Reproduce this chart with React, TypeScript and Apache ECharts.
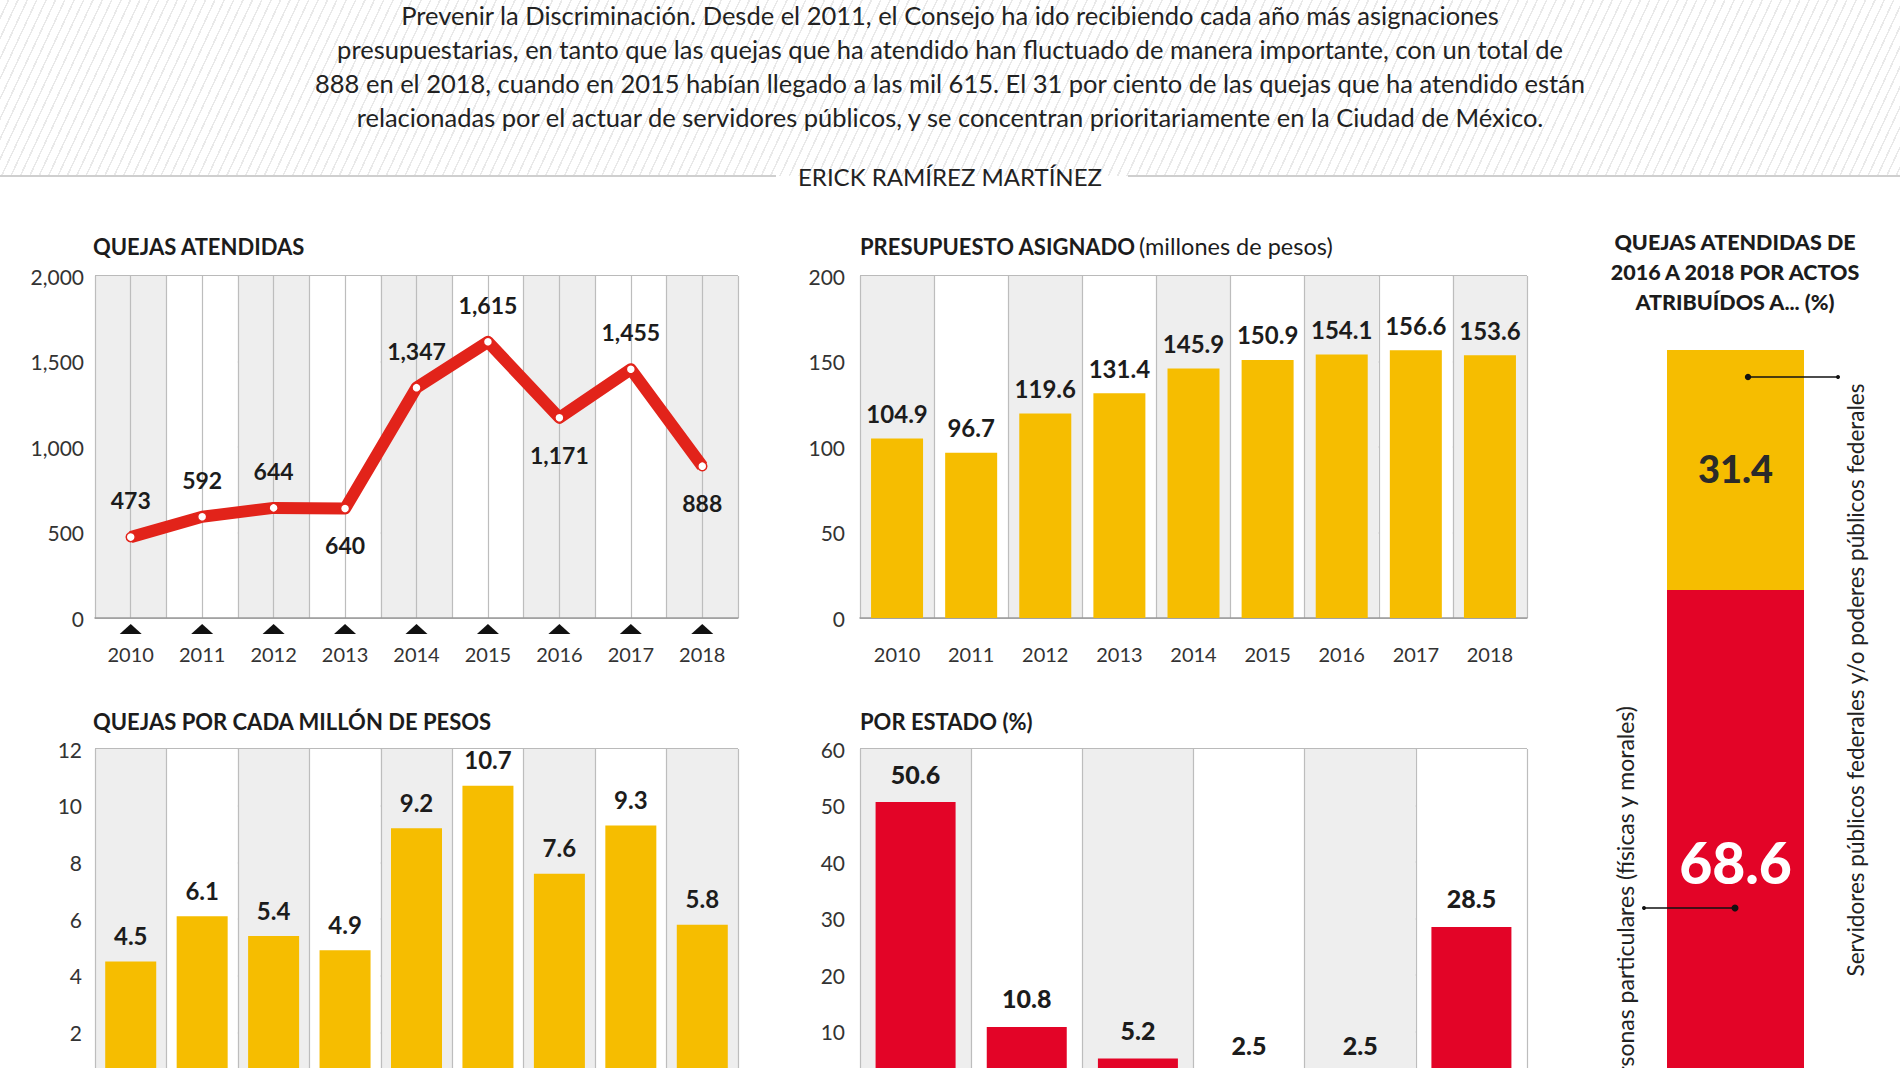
import React, { useEffect, useRef } from "react";
import * as echarts from "echarts";

const F = "Lato, 'Noto Sans', 'DejaVu Sans', sans-serif";

const years = ["2010", "2011", "2012", "2013", "2014", "2015", "2016", "2017", "2018"];
const quejas = [473, 592, 644, 640, 1347, 1615, 1171, 1455, 888];
const quejasLabelPos = ["top", "top", "top", "bottom", "top", "top", "bottom", "top", "bottom"];
const presupuesto = [104.9, 96.7, 119.6, 131.4, 145.9, 150.9, 154.1, 156.6, 153.6];
const quejasPorMillon = [4.5, 6.1, 5.4, 4.9, 9.2, 10.7, 7.6, 9.3, 5.8];
const estados = ["Estado 1", "Estado 2", "Estado 3", "Estado 4", "Estado 5", "Estado 6"];
const porEstado = [50.6, 10.8, 5.2, 2.5, 2.5, 28.5];
const actores = [
  "Personas particulares (físicas y morales)",
  "Servidores públicos federales y/o poderes públicos federales",
];
const actoresPct = [68.6, 31.4];

const paragraph = [
  "Prevenir la Discriminación. Desde el 2011, el Consejo ha ido recibiendo cada año más asignaciones",
  "presupuestarias, en tanto que las quejas que ha atendido han fluctuado de manera importante, con un total de",
  "888 en el 2018, cuando en 2015 habían llegado a las mil 615. El 31 por ciento de las quejas que ha atendido están",
  "relacionadas por el actuar de servidores públicos, y se concentran prioritariamente en la Ciudad de México.",
];

const YELLOW = "#f6bd00";
const RED = "#e30427";
const LINE_RED = "#e2231a";
const GREY_AREA = "#eeeeee";
const VLINE = "#bdbdbd";
const HLINE = "#a3a3a3";
const TXT = "#1c1c1c";

function catAxis(gridIndex: number, data: string[], showLabel: boolean, splitLine = true) {
  return {
    type: "category",
    gridIndex,
    data,
    boundaryGap: true,
    axisTick: { show: false },
    axisLine: { show: true, lineStyle: { color: "#9a9a9a", width: 1.5 } },
    axisLabel: { show: showLabel, margin: 26, fontSize: 20, color: "#333", fontFamily: F },
    splitLine: { show: splitLine, interval: 0, lineStyle: { color: VLINE, width: 1.2 } },
    splitArea: { show: true, interval: 0, areaStyle: { color: [GREY_AREA, "#ffffff"] } },
  };
}

function valAxis(
  gridIndex: number,
  max: number,
  interval: number,
  margin: number,
  fmt?: (v: number) => string
) {
  return {
    type: "value",
    gridIndex,
    min: 0,
    max,
    interval,
    axisLine: { show: false },
    axisTick: { show: false },
    axisLabel: {
      margin,
      fontSize: 21,
      color: "#333",
      fontFamily: F,
      formatter: fmt,
    },
    splitLine: { show: true, lineStyle: { color: HLINE, width: 1.5 } },
  };
}

const hideZero = (v: number) => (v === 0 ? "" : String(v));

export default function App() {
  const ref = useRef<HTMLDivElement>(null);

  useEffect(() => {
    if (!ref.current) return;
    const chart = echarts.init(ref.current, null, { renderer: "svg" });

    const option: any = {
      animation: false,
      textStyle: { fontFamily: F },
      grid: [
        { left: 95, top: 276, width: 643, height: 342 },
        { left: 860, top: 276, width: 667, height: 342 },
        { left: 95, top: 749, width: 643, height: 340 },
        { left: 860, top: 749, width: 667, height: 339 },
        { left: 1667, top: 350, width: 137, height: 764 },
      ],
      xAxis: [
        catAxis(0, years, true, false),
        {
          type: "value",
          gridIndex: 0,
          min: -0.5,
          max: 8.5,
          interval: 0.5,
          position: "bottom",
          axisLine: { show: false },
          axisTick: { show: false },
          axisLabel: { show: false },
          splitLine: { show: true, lineStyle: { color: VLINE, width: 1.2 } },
        },
        catAxis(1, years, true),
        catAxis(2, years, false),
        catAxis(3, estados, false),
        {
          type: "category",
          gridIndex: 4,
          data: ["2016-2018"],
          show: false,
        },
      ],
      yAxis: [
        valAxis(0, 2000, 500, 11, (v: number) => v.toLocaleString("en-US")),
        valAxis(1, 200, 50, 15),
        valAxis(2, 12, 2, 13, hideZero),
        valAxis(3, 60, 10, 15, hideZero),
        { type: "value", gridIndex: 4, min: 0, max: 100, show: false },
      ],
      series: [
        {
          type: "line",
          xAxisIndex: 0,
          yAxisIndex: 0,
          data: quejas.map((v, i) => ({
            value: v,
            label: { position: quejasLabelPos[i] },
          })),
          lineStyle: { color: LINE_RED, width: 12, join: "round" },
          symbol: "circle",
          symbolSize: 9,
          itemStyle: { color: "#ffffff", borderColor: LINE_RED, borderWidth: 1.5 },
          z: 5,
          label: {
            show: true,
            distance: 20,
            fontSize: 23,
            fontWeight: "bold",
            color: TXT,
            fontFamily: F,
            formatter: (p: any) => Number(p.value).toLocaleString("en-US"),
          },
        },
        {
          type: "custom",
          xAxisIndex: 0,
          yAxisIndex: 0,
          clip: false,
          silent: true,
          data: years.map((_, i) => [i, 0]),
          renderItem: (params: any, api: any) => {
            const p = api.coord([api.value(0), 0]);
            return {
              type: "polygon",
              shape: {
                points: [
                  [p[0] - 11, p[1] + 16],
                  [p[0] + 11, p[1] + 16],
                  [p[0], p[1] + 6],
                ],
              },
              style: { fill: "#111111" },
            };
          },
        },
        {
          type: "bar",
          xAxisIndex: 2,
          yAxisIndex: 1,
          data: presupuesto,
          barWidth: 52,
          itemStyle: { color: YELLOW },
          label: {
            show: true,
            position: "top",
            distance: 13,
            fontSize: 24,
            fontWeight: "bold",
            color: TXT,
            fontFamily: F,
          },
        },
        {
          type: "bar",
          xAxisIndex: 3,
          yAxisIndex: 2,
          data: quejasPorMillon,
          barWidth: 51,
          itemStyle: { color: YELLOW },
          label: {
            show: true,
            position: "top",
            distance: 14,
            fontSize: 24,
            fontWeight: "bold",
            color: TXT,
            fontFamily: F,
          },
        },
        {
          type: "bar",
          xAxisIndex: 4,
          yAxisIndex: 3,
          data: porEstado,
          barWidth: 80,
          itemStyle: { color: RED },
          label: {
            show: true,
            position: "top",
            distance: 16,
            fontSize: 25,
            fontWeight: 900,
            color: TXT,
            fontFamily: F,
          },
        },
        {
          type: "bar",
          name: actores[0],
          xAxisIndex: 5,
          yAxisIndex: 4,
          stack: "actos",
          data: [actoresPct[0]],
          barWidth: 137,
          itemStyle: { color: RED },
          label: {
            show: true,
            position: "inside",
            offset: [0, 10],
            fontSize: 57,
            fontWeight: 900,
            color: "#ffffff",
            fontFamily: F,
          },
        },
        {
          type: "bar",
          name: actores[1],
          xAxisIndex: 5,
          yAxisIndex: 4,
          stack: "actos",
          data: [actoresPct[1]],
          barWidth: 137,
          itemStyle: { color: YELLOW },
          label: {
            show: true,
            position: "inside",
            offset: [0, -2],
            fontSize: 38,
            fontWeight: 900,
            color: "#2a2a2a",
            fontFamily: F,
          },
        },
      ],
      graphic: [
        ...paragraph.map((t, i) => ({
          type: "text",
          x: 950,
          y: 15 + i * 34,
          style: {
            text: t,
            fontSize: 25.5,
            fontFamily: F,
            fill: "#222",
            textAlign: "center",
            textVerticalAlign: "middle",
          },
        })),
        {
          type: "line",
          shape: { x1: 0, y1: 176, x2: 776, y2: 176 },
          style: { stroke: "#cfcfcf", lineWidth: 2 },
        },
        {
          type: "line",
          shape: { x1: 1128, y1: 176, x2: 1900, y2: 176 },
          style: { stroke: "#cfcfcf", lineWidth: 2 },
        },
        {
          type: "text",
          x: 950,
          y: 176,
          style: {
            text: "ERICK RAMÍREZ MARTÍNEZ",
            fontSize: 24,
            fontFamily: F,
            fill: "#222",
            textAlign: "center",
            textVerticalAlign: "middle",
          },
        },
        {
          type: "text",
          x: 93,
          y: 246,
          style: {
            text: "QUEJAS ATENDIDAS",
            fontSize: 22,
            fontWeight: "bold",
            fontFamily: F,
            fill: TXT,
            textVerticalAlign: "middle",
          },
        },
        {
          type: "text",
          x: 860,
          y: 246,
          style: {
            text: "{b|PRESUPUESTO ASIGNADO} {r|(millones de pesos)}",
            fontFamily: F,
            textVerticalAlign: "middle",
            rich: {
              b: { fontSize: 22, fontWeight: "bold", fontFamily: F, fill: TXT, color: TXT },
              r: { fontSize: 23.5, fontWeight: "normal", fontFamily: F, fill: TXT, color: TXT },
            },
          },
        },
        {
          type: "text",
          x: 93,
          y: 721,
          style: {
            text: "QUEJAS POR CADA MILLÓN DE PESOS",
            fontSize: 22,
            fontWeight: "bold",
            fontFamily: F,
            fill: TXT,
            textVerticalAlign: "middle",
          },
        },
        {
          type: "text",
          x: 860,
          y: 721,
          style: {
            text: "POR ESTADO (%)",
            fontSize: 22,
            fontWeight: "bold",
            fontFamily: F,
            fill: TXT,
            textVerticalAlign: "middle",
          },
        },
        {
          type: "text",
          x: 1735,
          y: 272,
          style: {
            text: "QUEJAS ATENDIDAS DE\n2016 A 2018 POR ACTOS\nATRIBUÍDOS A... (%)",
            fontSize: 21.5,
            fontWeight: 900,
            lineHeight: 30,
            fontFamily: F,
            fill: TXT,
            textAlign: "center",
            textVerticalAlign: "middle",
          },
        },
        {
          type: "text",
          x: 1855,
          y: 680,
          rotation: Math.PI / 2,
          style: {
            text: actores[1],
            fontSize: 22.5,
            fontFamily: F,
            fill: "#222",
            textAlign: "center",
            textVerticalAlign: "middle",
          },
        },
        {
          type: "text",
          x: 1625,
          y: 706,
          rotation: Math.PI / 2,
          style: {
            text: actores[0],
            fontSize: 23,
            fontFamily: F,
            fill: "#222",
            textAlign: "right",
            textVerticalAlign: "middle",
          },
        },
        {
          type: "line",
          shape: { x1: 1748, y1: 377, x2: 1838, y2: 377 },
          style: { stroke: "#111", lineWidth: 1.3 },
          z: 10,
        },
        { type: "circle", shape: { cx: 1748, cy: 377, r: 3.2 }, style: { fill: "#111" }, z: 10 },
        { type: "circle", shape: { cx: 1838, cy: 377, r: 2 }, style: { fill: "#111" }, z: 10 },
        {
          type: "line",
          shape: { x1: 1644, y1: 908, x2: 1735, y2: 908 },
          style: { stroke: "#111", lineWidth: 1.3 },
          z: 10,
        },
        { type: "circle", shape: { cx: 1735, cy: 908, r: 3.5 }, style: { fill: "#111" }, z: 10 },
        { type: "circle", shape: { cx: 1644, cy: 908, r: 2 }, style: { fill: "#111" }, z: 10 },
      ],
    };

    chart.setOption(option);
    return () => {
      chart.dispose();
    };
  }, []);

  return (
    <div
      style={{
        position: "absolute",
        left: 0,
        top: 0,
        width: 1900,
        height: 1068,
        overflow: "hidden",
        background: "#ffffff",
      }}
    >
      <div
        style={{
          position: "absolute",
          left: 0,
          top: 0,
          width: 1900,
          height: 176,
          background:
            "repeating-linear-gradient(115deg, #ffffff 0px, #ffffff 7px, #e9e9e9 7px, #e9e9e9 8.5px)",
        }}
      />
      <div ref={ref} style={{ position: "absolute", left: 0, top: 0, width: 1900, height: 1130 }} />
    </div>
  );
}
